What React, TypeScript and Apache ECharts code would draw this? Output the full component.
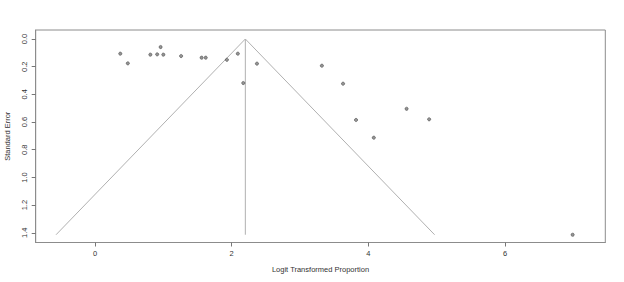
import React, { useEffect, useRef } from "react";
import * as echarts from "echarts";

// Observed studies: [logit transformed proportion, standard error]
const studyX = [0.37, 0.48, 0.81, 0.91, 0.96, 1.0, 1.26, 1.56, 1.62, 1.93, 2.09, 2.17, 2.37, 3.32, 3.63, 3.82, 4.08, 4.56, 4.89, 6.99];
const studySE = [0.106, 0.176, 0.113, 0.111, 0.058, 0.113, 0.123, 0.135, 0.135, 0.15, 0.106, 0.318, 0.178, 0.193, 0.323, 0.585, 0.713, 0.504, 0.58, 1.414];

// Funnel outline (pseudo confidence region) and reference line
const funnelX = [-0.57, 2.2, 4.97];
const funnelSE = [1.414, 0, 1.414];
const refX = [2.2, 2.2];
const refSE = [0, 1.414];

const xTicks = [0, 2, 4, 6];
const yTicks = [0, 0.2, 0.4, 0.6, 0.8, 1.0, 1.2, 1.4];

const FONT = "Liberation Sans, Arial, sans-serif";
const BOX = "#8c8c8c";

export default function App() {
  const ref = useRef<HTMLDivElement>(null);
  useEffect(() => {
    if (!ref.current) return;
    const chart = echarts.init(ref.current, undefined, { renderer: "svg" });
    const pts = studyX.map((x, i) => [x, studySE[i]]);
    const funnel = funnelX.map((x, i) => [x, funnelSE[i]]);
    const refLine = refX.map((x, i) => [x, refSE[i]]);
    chart.setOption({
      animation: false,
      backgroundColor: "#ffffff",
      grid: {
        left: 35.7,
        right: 624 - 605.3,
        top: 30,
        bottom: 282 - 242.5,
        outerBoundsMode: "none",
        containLabel: false,
        show: true,
        borderColor: BOX,
        borderWidth: 1,
        backgroundColor: "transparent",
      },
      xAxis: {
        type: "value",
        position: "bottom",
        min: -0.868,
        max: 7.468,
        name: "Logit Transformed Proportion",
        nameLocation: "middle",
        nameGap: 23,
        nameTextStyle: { fontFamily: FONT, fontSize: 7.5, color: "#333" },
        axisLine: { show: true, onZero: false, lineStyle: { color: BOX, width: 1 } },
        axisTick: {
          show: true,
          customValues: xTicks,
          length: 4,
          lineStyle: { color: "#777" },
        },
        axisLabel: {
          customValues: xTicks,
          formatter: (v: number) => String(v),
          fontFamily: FONT,
          fontSize: 7.5,
          color: "#333",
          margin: 7,
        },
        splitLine: { show: false },
      },
      yAxis: {
        type: "value",
        position: "left",
        inverse: true,
        min: -0.065,
        max: 1.47,
        name: "Standard Error",
        nameLocation: "middle",
        nameGap: 24,
        nameRotate: 90,
        nameTextStyle: { fontFamily: FONT, fontSize: 7.5, color: "#333" },
        axisLine: { show: true, onZero: false, lineStyle: { color: BOX, width: 1 } },
        axisTick: {
          show: true,
          customValues: yTicks,
          length: 4,
          lineStyle: { color: "#777" },
        },
        axisLabel: {
          customValues: yTicks,
          formatter: (v: number) => v.toFixed(1),
          rotate: 90,
          fontFamily: FONT,
          fontSize: 7.5,
          color: "#333",
          margin: 7,
        },
        splitLine: { show: false },
      },
      series: [
        {
          type: "line",
          data: funnel,
          symbol: "none",
          lineStyle: { color: "#b0b0b0", width: 1 },
          z: 1,
        },
        {
          type: "line",
          data: refLine,
          symbol: "none",
          lineStyle: { color: "#b0b0b0", width: 1 },
          z: 1,
        },
        {
          type: "scatter",
          data: pts,
          symbol: "circle",
          symbolSize: 3.2,
          itemStyle: { color: "#7a7a7a", borderColor: "#333", borderWidth: 0.6 },
          z: 3,
        },
      ],
    });
    return () => chart.dispose();
  }, []);
  return (
    <div
      ref={ref}
      style={{ position: "absolute", left: 0, top: 0, width: 624, height: 282 }}
    />
  );
}
